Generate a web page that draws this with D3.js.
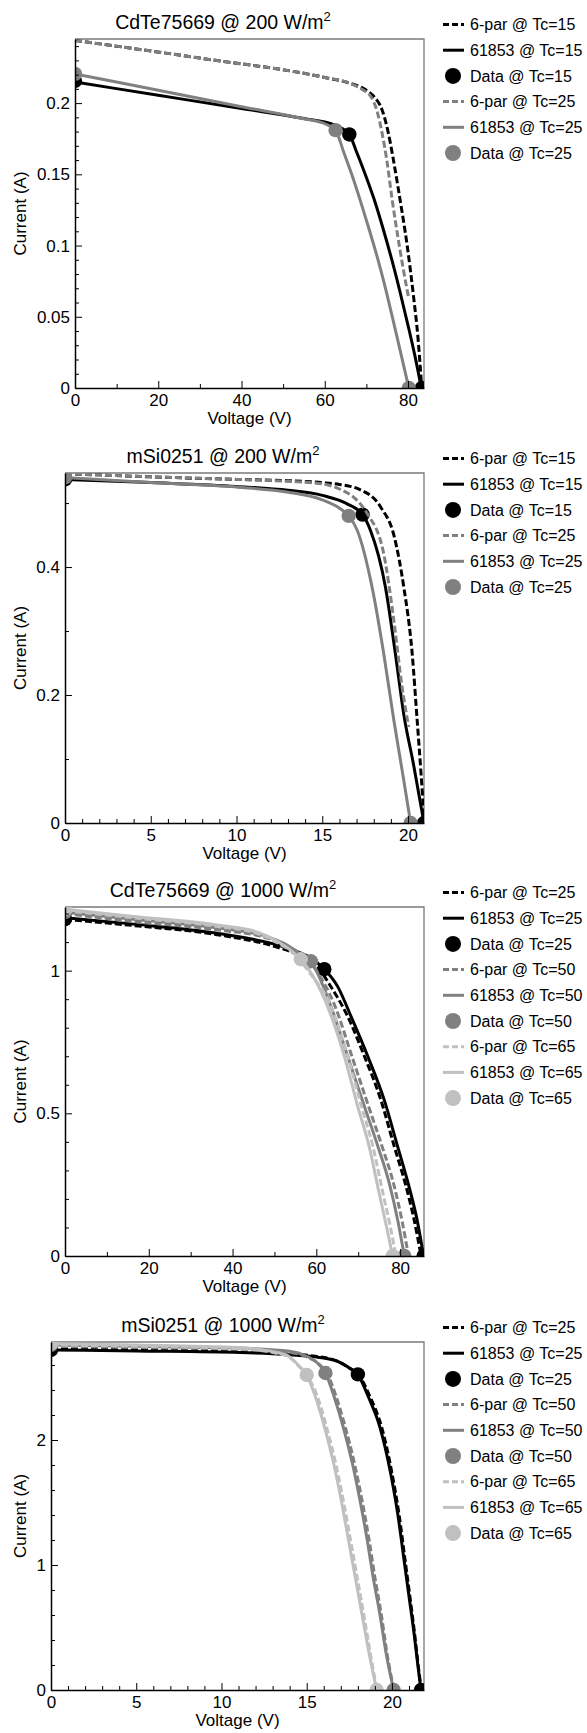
<!DOCTYPE html>
<html><head><meta charset="utf-8">
<script src="https://cdn.jsdelivr.net/npm/d3@7"></script>
<style>
html,body{margin:0;padding:0;background:#fff;}
svg{display:block;font-family:"Liberation Sans",Arial,Helvetica,sans-serif;}
</style></head>
<body><svg id="chart" width="587" height="1733"></svg>
<script>
// ---------- Panel 1: CdTe75669 @ 200 W/m2 ----------
const cdte200_temps = ["15", "25"];
const cdte200_6par_15 = [[0,0.244],[30,0.2316],[60,0.218],[66,0.214],[70,0.209],[72,0.204],[73.8,0.195],[75.2,0.18],[76.5,0.16],[78.1,0.132],[79.8,0.1],[81.3,0.065],[82.4,0.035],[83.3,0]];
const cdte200_61853_15 = [[0,0.2148],[20,0.2055],[40,0.1962],[55,0.1892],[62,0.185],[65.9,0.178],[67.6,0.166],[69.6,0.151],[71.8,0.133],[74.0,0.112],[76.2,0.089],[78.2,0.066],[80.0,0.044],[81.7,0.022],[83.2,0]];
const cdte200_data_15 = [[0,0.2155],[65.9,0.178],[83.3,0]];
const cdte200_6par_25 = [[0,0.244],[30,0.2316],[60,0.218],[66,0.214],[69,0.2095],[71.1,0.2045],[72.5,0.195],[73.7,0.18],[74.9,0.16],[76.2,0.132],[77.9,0.1],[79.2,0.078],[80.1,0.064]];
const cdte200_61853_25 = [[0,0.2205],[20,0.209],[40,0.1975],[55,0.189],[60,0.1855],[62.6,0.181],[64.5,0.166],[66.6,0.149],[68.6,0.131],[70.6,0.112],[72.6,0.092],[74.5,0.071],[76.3,0.049],[78.3,0.024],[80.2,0]];
const cdte200_data_25 = [[0,0.2205],[62.6,0.181],[80.2,0]];
const cdte200_xTicks = [0,20,40,60,80];
const cdte200_yTicks = [0,0.05,0.1,0.15,0.2];

// ---------- Panel 2: mSi0251 @ 200 W/m2 ----------
const msi200_temps = ["15", "25"];
const msi200_6par_15 = [[0,0.546],[5,0.541],[10,0.537],[13,0.535],[15,0.532],[16,0.529],[17.2,0.521],[18.4,0.494],[19.2,0.447],[19.75,0.369],[20.24,0.265],[20.53,0.161],[20.75,0.08],[20.95,0]];
const msi200_61853_15 = [[0,0.537],[5,0.532],[10,0.526],[13,0.52],[15,0.512],[16.5,0.498],[17.35,0.482],[17.8,0.458],[18.68,0.369],[19.26,0.265],[19.75,0.17],[20.33,0.09],[20.93,0]];
const msi200_data_15 = [[0,0.537],[17.35,0.482],[20.93,0]];
const msi200_6par_25 = [[0,0.546],[5,0.541],[10,0.537],[13,0.534],[15,0.53],[16,0.522],[17,0.505],[17.61,0.484],[18.58,0.421],[19.17,0.317],[19.65,0.213],[20.04,0.15]];
const msi200_61853_25 = [[0,0.54],[5,0.532],[10,0.525],[13,0.517],[15,0.505],[16,0.492],[16.54,0.48],[17.03,0.458],[17.9,0.369],[18.58,0.265],[19.17,0.161],[19.7,0.075],[20.15,0]];
const msi200_data_25 = [[0,0.54],[16.54,0.48],[20.15,0]];
const msi200_xTicks = [0,5,10,15,20];
const msi200_yTicks = [0,0.2,0.4];

// ---------- Panel 3: CdTe75669 @ 1000 W/m2 ----------
const cdte1000_temps = ["25", "50", "65"];
const cdte1000_6par_25 = [[0,1.18],[16.4,1.158],[36.3,1.126],[50,1.085],[55,1.06],[60,1.02],[63,0.955],[67.5,0.839],[71.5,0.699],[75.4,0.547],[78.6,0.384],[81.3,0.25],[83.3,0.13],[85,0]];
const cdte1000_61853_25 = [[0,1.185],[16.4,1.163],[36.3,1.131],[53.1,1.079],[58,1.05],[61.9,1.005],[65.1,0.944],[68.3,0.839],[72.3,0.699],[76.2,0.547],[79.4,0.384],[82,0.25],[84,0.13],[85.6,0]];
const cdte1000_data_25 = [[0,1.18],[61.9,1.005],[85.6,0]];
const cdte1000_6par_50 = [[0,1.2],[16.4,1.172],[36.3,1.143],[48,1.115],[53,1.085],[57,1.05],[60,1.0],[64.5,0.874],[68.5,0.699],[72.5,0.523],[75.7,0.384],[78.5,0.25],[80.5,0.12],[82,0]];
const cdte1000_61853_50 = [[0,1.205],[16.4,1.18],[36.3,1.15],[48,1.12],[53,1.09],[56,1.06],[58.7,1.033],[63.5,0.874],[67.5,0.699],[71.5,0.523],[74.7,0.384],[77.5,0.25],[79.5,0.12],[81,0]];
const cdte1000_data_50 = [[0,1.205],[58.7,1.033],[81,0]];
const cdte1000_6par_65 = [[0,1.21],[16.4,1.185],[36.3,1.155],[46,1.13],[51,1.095],[55,1.055],[58,1.0],[63.5,0.874],[67.5,0.699],[70.8,0.523],[73.5,0.384],[75.9,0.22],[77.7,0.1],[79,0]];
const cdte1000_61853_65 = [[0,1.215],[16.4,1.19],[36.3,1.16],[46,1.135],[51,1.1],[54,1.07],[56.3,1.04],[62.7,0.874],[66.7,0.699],[69.9,0.523],[72.6,0.384],[75,0.22],[76.8,0.1],[78.2,0]];
const cdte1000_data_65 = [[0,1.215],[56.3,1.04],[78.2,0]];
const cdte1000_xTicks = [0,20,40,60,80];
const cdte1000_yTicks = [0,0.5,1];

// ---------- Panel 4: mSi0251 @ 1000 W/m2 ----------
const msi1000_temps = ["25", "50", "65"];
const msi1000_6par_25 = [[0,2.735],[5,2.725],[11.1,2.71],[15.5,2.67],[16.8,2.63],[17.5,2.576],[18.05,2.52],[18.7,2.35],[19.4,2.1],[19.98,1.75],[20.42,1.4],[20.76,1.05],[21.05,0.75],[21.33,0.45],[21.52,0.22],[21.72,0]];
const msi1000_61853_25 = [[0,2.72],[5,2.712],[11.1,2.70],[15.5,2.665],[16.8,2.63],[17.5,2.576],[18.0,2.525],[18.6,2.35],[19.3,2.1],[19.9,1.75],[20.35,1.4],[20.7,1.05],[21.0,0.75],[21.3,0.45],[21.5,0.22],[21.7,0]];
const msi1000_data_25 = [[0,2.72],[18.0,2.525],[21.7,0]];
const msi1000_6par_50 = [[0,2.75],[5,2.74],[11,2.725],[14,2.7],[15,2.665],[15.7,2.61],[16.2,2.53],[16.72,2.35],[17.27,2.1],[17.82,1.8],[18.27,1.5],[18.66,1.2],[19.0,0.9],[19.38,0.6],[19.7,0.3],[20.12,0]];
const msi1000_61853_50 = [[0,2.76],[5,2.75],[11,2.735],[14,2.71],[15,2.67],[15.6,2.62],[16.1,2.536],[16.6,2.35],[17.15,2.1],[17.7,1.8],[18.15,1.5],[18.55,1.2],[18.9,0.9],[19.3,0.6],[19.65,0.3],[20.1,0]];
const msi1000_data_50 = [[0,2.76],[16.1,2.536],[20.1,0]];
const msi1000_6par_65 = [[0,2.76],[5,2.75],[11,2.73],[13.8,2.675],[14.5,2.595],[15.05,2.51],[15.62,2.35],[16.17,2.1],[16.72,1.8],[17.17,1.5],[17.57,1.2],[17.96,0.9],[18.35,0.6],[18.72,0.3],[19.12,0]];
const msi1000_61853_65 = [[0,2.77],[5,2.76],[11,2.74],[13.8,2.68],[14.5,2.6],[15.0,2.52],[15.5,2.35],[16.05,2.1],[16.6,1.8],[17.05,1.5],[17.45,1.2],[17.85,0.9],[18.25,0.6],[18.65,0.3],[19.1,0]];
const msi1000_data_65 = [[0,2.77],[15.0,2.52],[19.1,0]];
const msi1000_xTicks = [0,5,10,15,20];
const msi1000_yTicks = [0,1,2];

// ---------- drawing ----------
const svg = d3.select("#chart");
const colorByIndex = ["#000000", "#808080", "#c0c0c0"];
const FONT_TICK = 17, FONT_TITLE = 19.5, FONT_LEG = 16, FONT_LAB = 17;

const panels = [
  {title:"CdTe75669 @ 200 W/m", left:75, top:39, bottom:388, right:424, xMax:83.84, yMax:0.245, xMinor:10, yMinor:0.01,
   xTicks:cdte200_xTicks, yTicks:cdte200_yTicks, temps:cdte200_temps,
   series:[[cdte200_6par_15,cdte200_61853_15,cdte200_data_15],[cdte200_6par_25,cdte200_61853_25,cdte200_data_25]]},
  {title:"mSi0251 @ 200 W/m", left:65, top:473, bottom:823, xMax:20.93, right:424, yMax:0.547, xMinor:1, yMinor:0.1,
   xTicks:msi200_xTicks, yTicks:msi200_yTicks, temps:msi200_temps,
   series:[[msi200_6par_15,msi200_61853_15,msi200_data_15],[msi200_6par_25,msi200_61853_25,msi200_data_25]]},
  {title:"CdTe75669 @ 1000 W/m", left:65, top:907, bottom:1256, right:424, xMax:85.7, yMax:1.223, xMinor:10, yMinor:0.1,
   xTicks:cdte1000_xTicks, yTicks:cdte1000_yTicks, temps:cdte1000_temps,
   series:[[cdte1000_6par_25,cdte1000_61853_25,cdte1000_data_25],[cdte1000_6par_50,cdte1000_61853_50,cdte1000_data_50],[cdte1000_6par_65,cdte1000_61853_65,cdte1000_data_65]]},
  {title:"mSi0251 @ 1000 W/m", left:51, top:1342, bottom:1690, right:424, xMax:21.88, yMax:2.784, xMinor:1, yMinor:0.2,
   xTicks:msi1000_xTicks, yTicks:msi1000_yTicks, temps:msi1000_temps,
   series:[[msi1000_6par_25,msi1000_61853_25,msi1000_data_25],[msi1000_6par_50,msi1000_61853_50,msi1000_data_50],[msi1000_6par_65,msi1000_61853_65,msi1000_data_65]]}
];

const defs = svg.append("defs");

panels.forEach((p, pi) => {
  const x = d3.scaleLinear().domain([0, p.xMax]).range([p.left, p.right]);
  const y = d3.scaleLinear().domain([0, p.yMax]).range([p.bottom, p.top]);
  const g = svg.append("g");
  const clipId = "clip" + pi;
  defs.append("clipPath").attr("id", clipId).append("rect")
    .attr("x", p.left).attr("y", p.top).attr("width", p.right - p.left).attr("height", p.bottom - p.top);

  // title
  const t = g.append("text").attr("x", 223).attr("y", p.top - 10.5).attr("text-anchor", "middle")
    .attr("font-size", FONT_TITLE).attr("fill", "#000").text(p.title);
  t.append("tspan").attr("dy", -7.5).attr("font-size", 13).text("2");

  // frame (top & right)
  g.append("path").attr("d", `M${p.left},${p.top}H${p.right}V${p.bottom}`)
    .attr("fill", "none").attr("stroke", "#7a7a7a").attr("stroke-width", 1.3);

  // curves
  const line = d3.line().x(d => x(d[0])).y(d => y(d[1])).curve(d3.curveMonotoneX);
  const plot = g.append("g").attr("clip-path", `url(#${clipId})`);
  p.series.forEach((s, si) => {
    const col = colorByIndex[si];
    plot.append("path").datum(s[0]).attr("d", line).attr("fill", "none").attr("stroke", col)
      .attr("stroke-width", 3).attr("stroke-dasharray", "7,3");
    plot.append("path").datum(s[1]).attr("d", line).attr("fill", "none").attr("stroke", col)
      .attr("stroke-width", 3);
    plot.selectAll(null).data(s[2]).enter().append("circle")
      .attr("cx", d => x(d[0])).attr("cy", d => y(d[1])).attr("r", 7.2).attr("fill", col);
  });

  // axes
  const minorX = d3.range(0, p.xMax + 1e-9, p.xMinor).filter(v => !p.xTicks.some(m => Math.abs(m - v) < 1e-9));
  const minorY = d3.range(0, p.yMax + 1e-9, p.yMinor).map(v => +v.toFixed(4)).filter(v => !p.yTicks.some(m => Math.abs(m - v) < 1e-9));

  const ax = g.append("g").attr("transform", `translate(0,${p.bottom})`)
    .call(d3.axisBottom(x).tickValues(p.xTicks).tickSize(-7).tickSizeOuter(0).tickPadding(6).tickFormat(d3.format("~g")));
  g.append("g").attr("transform", `translate(0,${p.bottom})`)
    .call(d3.axisBottom(x).tickValues(minorX).tickSize(-4).tickSizeOuter(0).tickFormat(""))
    .select(".domain").remove();
  const ay = g.append("g").attr("transform", `translate(${p.left},0)`)
    .call(d3.axisLeft(y).tickValues(p.yTicks).tickSize(-7).tickSizeOuter(0).tickPadding(5).tickFormat(d3.format("~g")));
  g.append("g").attr("transform", `translate(${p.left},0)`)
    .call(d3.axisLeft(y).tickValues(minorY).tickSize(-4).tickSizeOuter(0).tickFormat(""))
    .select(".domain").remove();
  [ax, ay].forEach(a => {
    a.select(".domain").attr("stroke", "#000").attr("stroke-width", 1.5);
    a.selectAll("text").attr("font-size", FONT_TICK).attr("fill", "#000").attr("font-family", null);
  });
  g.selectAll(".tick line").attr("stroke", "#000").attr("stroke-width", 1);

  // axis labels
  g.append("text").attr("x", (p.left + p.right) / 2).attr("y", p.bottom + 36).attr("text-anchor", "middle")
    .attr("font-size", FONT_LAB).text("Voltage (V)");
  g.append("text").attr("transform", `translate(26,${(p.top + p.bottom) / 2}) rotate(-90)`)
    .attr("text-anchor", "middle").attr("font-size", FONT_LAB).text("Current (A)");

  // legend
  const lg = g.append("g");
  let row = 0;
  const rowH = 25.7, y0 = p.top - 14.5;
  p.temps.forEach((tc, si) => {
    const col = colorByIndex[si];
    const items = [["6-par @ Tc=" + tc, "dash"], ["61853 @ Tc=" + tc, "solid"], ["Data @ Tc=" + tc, "dot"]];
    items.forEach(it => {
      const yy = y0 + row * rowH;
      if (it[1] === "dot") {
        lg.append("circle").attr("cx", 453).attr("cy", yy).attr("r", 8).attr("fill", col);
      } else {
        lg.append("line").attr("x1", 443).attr("x2", 464).attr("y1", yy).attr("y2", yy)
          .attr("stroke", col).attr("stroke-width", 3)
          .attr("stroke-dasharray", it[1] === "dash" ? "6,3" : null);
      }
      lg.append("text").attr("x", 470).attr("y", yy).attr("dy", "0.35em")
        .attr("font-size", FONT_LEG).text(it[0]);
      row++;
    });
  });
});
</script></body></html>
